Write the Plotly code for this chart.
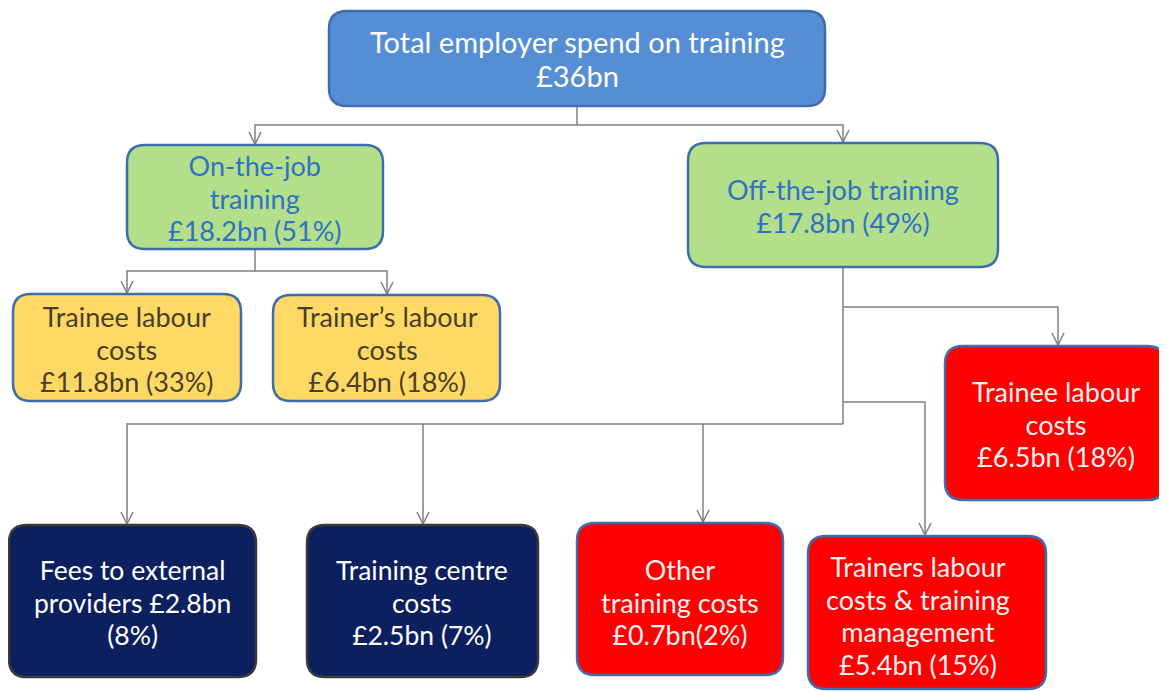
import plotly.graph_objects as go

# ---- data ----
node_ids = ["total", "onjob", "offjob", "on_trainee", "on_trainer",
            "off_trainee", "fees", "centre", "other", "trainers_mgmt"]
node_labels = [
    "Total employer spend on training",
    "On-the-job<br>training",
    "Off-the-job training",
    "Trainee labour<br>costs",
    "Trainer’s labour<br>costs",
    "Trainee labour<br>costs",
    "Fees to external<br>providers",
    "Training centre<br>costs",
    "Other<br>training costs",
    "Trainers labour<br>costs & training<br>management",
]
node_values_bn = [36, 18.2, 17.8, 11.8, 6.4, 6.5, 2.8, 2.5, 0.7, 5.4]
node_pct = [None, 51, 49, 33, 18, 18, 8, 7, 2, 15]
value_sep = ["<br>", "<br>", "<br>", "<br>", "<br>", "<br>", " ", "<br>", "<br>", "<br>"]
pct_sep = ["", " ", " ", " ", " ", " ", "<br>", " ", "", " "]

# ---- layout (pixel boxes: x0, y0, x1, y1) ----
boxes = {
    "total": (329, 11, 825, 106),
    "onjob": (127, 145, 383, 249),
    "offjob": (688, 143, 998, 267),
    "on_trainee": (13, 294, 241, 401),
    "on_trainer": (273, 295, 500, 401),
    "off_trainee": (945, 346, 1165, 500),
    "fees": (9, 525, 256, 677),
    "centre": (307, 525, 538, 677),
    "other": (577, 523, 783, 675),
    "trainers_mgmt": (808, 536, 1046, 689),
}
styles = {
    "total": ("#558ED5", "#3E6DAE", "#FFFFFF", 29),
    "onjob": ("#B3DE8A", "#3E6DAE", "#2F72C4", 27),
    "offjob": ("#B3DE8A", "#3E6DAE", "#2F72C4", 27),
    "on_trainee": ("#FFD966", "#3E6DAE", "#4A3F28", 27),
    "on_trainer": ("#FFD966", "#3E6DAE", "#4A3F28", 27),
    "off_trainee": ("#FF0000", "#3E6DAE", "#FFF2F2", 27),
    "fees": ("#0C1F5E", "#3A3A3A", "#FFFFFF", 26.5),
    "centre": ("#0C1F5E", "#3A3A3A", "#FFFFFF", 26.5),
    "other": ("#FF0000", "#3E6DAE", "#FFF2F2", 27),
    "trainers_mgmt": ("#FF0000", "#3E6DAE", "#FFF2F2", 27),
}
text_centers = {
    "total": (577, 58.5),
    "onjob": (255, 198),
    "offjob": (843, 206),
    "on_trainee": (127, 349),
    "on_trainer": (387, 349),
    "off_trainee": (1056, 424),
    "fees": (132, 602),
    "centre": (422, 602),
    "other": (680, 602),
    "trainers_mgmt": (918, 615.5),
}
# connector polylines (pixel), arrow = last point gets an open arrowhead
connectors = [
    ([(577, 106), (577, 125)], False),
    ([(577, 125), (255, 125), (255, 145)], True),
    ([(577, 125), (843, 125), (843, 143)], True),
    ([(255, 249), (255, 271)], False),
    ([(255, 271), (127, 271), (127, 294)], True),
    ([(255, 271), (387, 271), (387, 295)], True),
    ([(843, 267), (843, 424)], False),
    ([(843, 307), (1058, 307), (1058, 346)], True),
    ([(843, 402), (925, 402), (925, 536)], True),
    ([(843, 424), (127, 424), (127, 525)], True),
    ([(423, 424), (423, 525)], True),
    ([(703, 424), (703, 523)], True),
]


def rounded_path(x0, y0, x1, y1, r=18):
    return (f"M {x0+r},{y0} L {x1-r},{y0} Q {x1},{y0} {x1},{y0+r} "
            f"L {x1},{y1-r} Q {x1},{y1} {x1-r},{y1} L {x0+r},{y1} "
            f"Q {x0},{y1} {x0},{y1-r} L {x0},{y0+r} Q {x0},{y0} {x0+r},{y0} Z")


fig = go.Figure()
shapes = []
annotations = []

# connectors
for pts, arrow in connectors:
    d = "M " + " L ".join(f"{x},{y}" for x, y in pts)
    shapes.append(dict(type="path", path=d, xref="x", yref="y",
                       line=dict(color="#808080", width=1.5), layer="below"))
    if arrow:
        x, y = pts[-1]
        shapes.append(dict(type="path",
                           path=f"M {x-6},{y-13} L {x},{y-1} L {x+6},{y-13}",
                           xref="x", yref="y",
                           line=dict(color="#808080", width=1.5), layer="below"))

# boxes and text
for i, nid in enumerate(node_ids):
    fill, border, tcol, fs = styles[nid]
    x0, y0, x1, y1 = boxes[nid]
    shapes.append(dict(type="path", path=rounded_path(x0, y0, x1, y1),
                       xref="x", yref="y", fillcolor=fill,
                       line=dict(color=border, width=2.5), layer="above"))
    v = node_values_bn[i]
    txt = node_labels[i] + value_sep[i] + f"£{v:g}bn"
    if node_pct[i] is not None:
        txt += pct_sep[i] + f"({node_pct[i]}%)"
    gap = 34.0 if nid == "total" else 32.5
    base = gap / 1.3  # plotly line spacing = 1.3 x base font size
    lines = [f'<span style="font-size:{fs}px">{ln}</span>' for ln in txt.split("<br>")]
    cx, cy = text_centers[nid]
    annotations.append(dict(x=cx, y=cy, xref="x", yref="y", text="<br>".join(lines),
                            showarrow=False, align="center",
                            yanchor="middle", xanchor="center",
                            font=dict(family="Lato, Open Sans, sans-serif",
                                      size=base, color=tcol)))

# page body has an 8px margin: shift ranges so data units equal screen pixels
fig.update_layout(
    width=1159, height=683,
    margin=dict(l=0, r=0, t=0, b=0),
    paper_bgcolor="white", plot_bgcolor="white",
    xaxis=dict(range=[8, 1167], visible=False, fixedrange=True),
    yaxis=dict(range=[691, 8], visible=False, fixedrange=True),
    shapes=shapes, annotations=annotations, showlegend=False,
)
fig.write_html("out.html")
